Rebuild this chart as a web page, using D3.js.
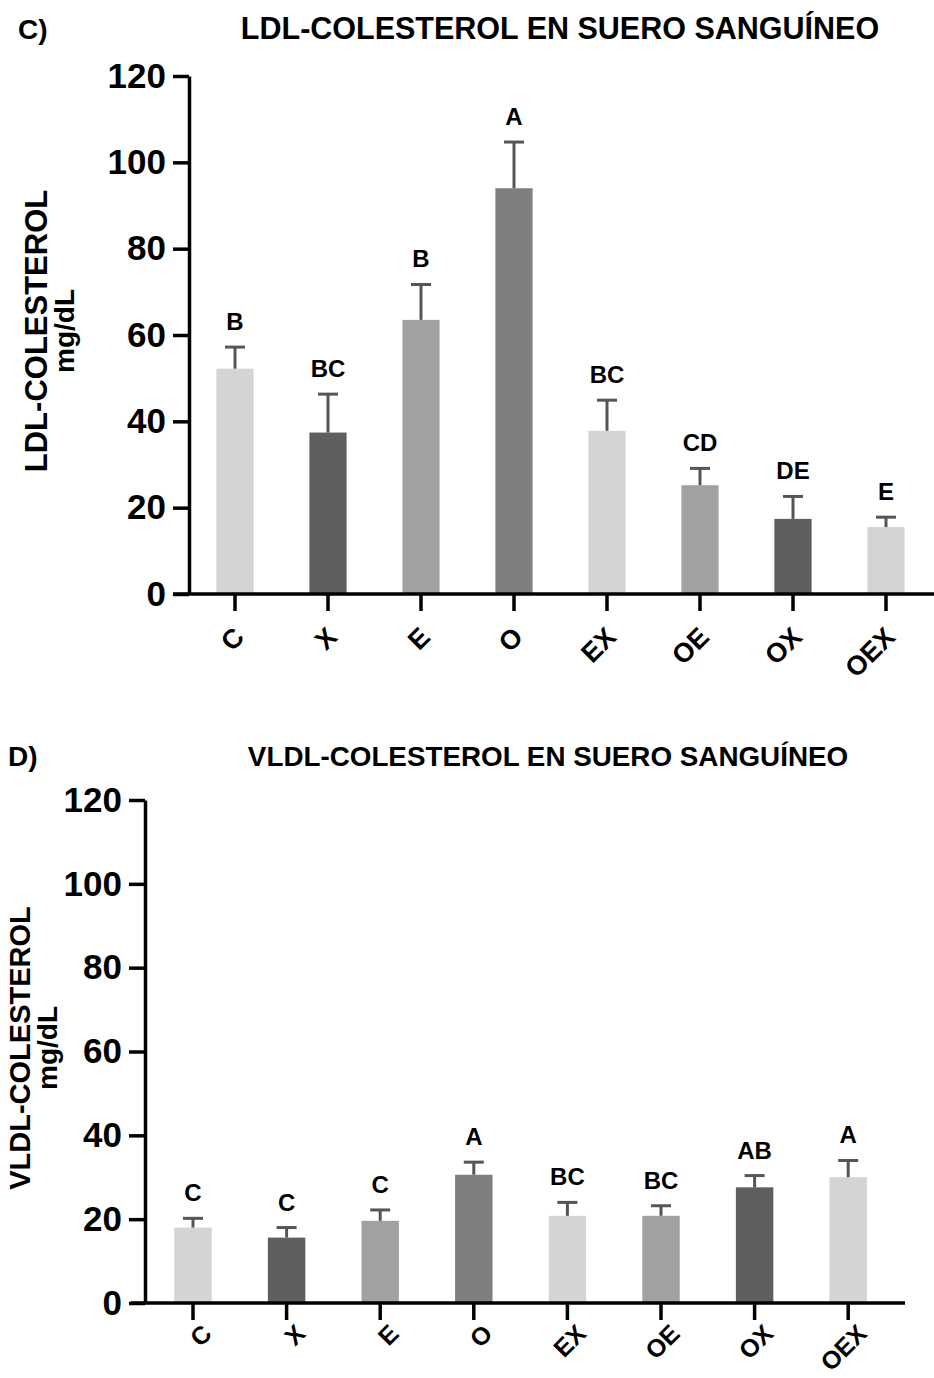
<!DOCTYPE html>
<html>
<head>
<meta charset="utf-8">
<script src="https://cdn.jsdelivr.net/npm/d3@7"></script>
<style>
  html, body { margin: 0; padding: 0; background: #fff; }
  svg { display: block; font-family: "Liberation Sans", Arial, sans-serif; }
</style>
</head>
<body>
<svg id="fig" width="934" height="1378"></svg>
<script>
// Treatment groups shown on the x axis of both panels
const groups = ["C", "X", "E", "O", "EX", "OE", "OX", "OEX"];

// Panel C: LDL-cholesterol (mg/dL), mean and upper error
const ldlMean = [52.2, 37.4, 63.5, 94.0, 37.8, 25.2, 17.4, 15.5];
const ldlErr  = [5.0, 8.9, 8.2, 10.7, 7.1, 3.9, 5.2, 2.3];
const ldlLetters = ["B", "BC", "B", "A", "BC", "CD", "DE", "E"];

// Panel D: VLDL-cholesterol (mg/dL), mean and upper error
const vldlMean = [18.0, 15.6, 19.6, 30.6, 20.8, 20.8, 27.6, 30.0];
const vldlErr  = [2.2, 2.4, 2.6, 3.0, 3.2, 2.4, 2.8, 4.0];
const vldlLetters = ["C", "C", "C", "A", "BC", "BC", "AB", "A"];

// Shared y-axis ticks
const yTicks = [0, 20, 40, 60, 80, 100, 120];

// Bar fill per group
const barFills = ["#d4d4d4", "#5f5f5f", "#a1a1a1", "#7f7f7f", "#d4d4d4", "#a1a1a1", "#5f5f5f", "#d4d4d4"];

const svg = d3.select("#fig");

function panel(opt) {
  const g = svg.append("g");
  const y = d3.scaleLinear().domain([0, 120]).range([opt.y0, opt.y120]);
  const x = d3.scaleBand().domain(groups).range([opt.xStart, opt.xEnd])
    .paddingInner(0.6).paddingOuter(0.3);
  const data = groups.map((k, i) => ({ k, m: opt.mean[i], e: opt.err[i], l: opt.letters[i], f: barFills[i] }));
  const cx = d => x(d.k) + x.bandwidth() / 2;

  // panel tag and title
  g.append("text").attr("x", opt.tagX).attr("y", opt.titleY)
    .attr("font-size", 28).attr("font-weight", "bold").text(opt.tag);
  g.append("text").attr("x", opt.titleX).attr("y", opt.titleY)
    .attr("text-anchor", "middle").attr("font-size", opt.titleSize).attr("font-weight", "bold").text(opt.title);

  // bars
  g.selectAll("rect.bar").data(data).join("rect")
    .attr("class", "bar")
    .attr("x", d => x(d.k))
    .attr("width", x.bandwidth())
    .attr("y", d => y(d.m))
    .attr("height", d => y(0) - y(d.m))
    .attr("fill", d => d.f);

  // upper error whiskers with caps
  const eb = g.selectAll("g.err").data(data).join("g").attr("class", "err")
    .attr("stroke", "#555").attr("stroke-width", 3);
  eb.append("line")
    .attr("x1", cx).attr("x2", cx)
    .attr("y1", d => y(d.m)).attr("y2", d => y(d.m + d.e));
  eb.append("line")
    .attr("x1", d => cx(d) - 10).attr("x2", d => cx(d) + 10)
    .attr("y1", d => y(d.m + d.e)).attr("y2", d => y(d.m + d.e));

  // significance letters
  g.selectAll("text.sig").data(data).join("text")
    .attr("class", "sig")
    .attr("x", cx)
    .attr("y", d => y(d.m + d.e) - opt.letterGap)
    .attr("text-anchor", "middle").attr("font-size", 24).attr("font-weight", "bold")
    .text(d => d.l);

  // y axis
  const ya = g.append("g").attr("transform", `translate(${opt.axisX},0)`)
    .call(d3.axisLeft(y).tickValues(yTicks).tickSize(16).tickSizeOuter(0).tickPadding(7));
  ya.select(".domain").attr("stroke-width", 3.5).attr("stroke", "#000");
  ya.selectAll(".tick line").attr("stroke-width", 3.5).attr("stroke", "#000");
  ya.selectAll(".tick text").attr("font-size", 35).attr("font-weight", "bold")
    .attr("font-family", "Liberation Sans, Arial, sans-serif").attr("fill", "#000");

  // x axis: baseline, ticks and rotated group names
  g.append("line").attr("x1", opt.lineStart).attr("x2", opt.lineEnd)
    .attr("y1", y(0)).attr("y2", y(0)).attr("stroke", "#000").attr("stroke-width", 3.5);
  const xa = g.append("g").attr("transform", `translate(0,${y(0)})`)
    .call(d3.axisBottom(x).tickSize(17).tickSizeOuter(0));
  xa.select(".domain").remove();
  xa.selectAll(".tick line").attr("stroke-width", 3.5).attr("stroke", "#000");
  xa.selectAll(".tick text")
    .attr("font-size", opt.catSize).attr("font-weight", "bold").attr("fill", "#000")
    .attr("font-family", "Liberation Sans, Arial, sans-serif")
    .attr("text-anchor", "end")
    .attr("x", opt.labelDx).attr("y", opt.labelDy).attr("dy", "0.35em")
    .attr("transform", `rotate(-45 ${opt.labelDx} ${opt.labelDy})`);

  // y-axis title, two lines
  g.append("text")
    .attr("transform", `translate(${opt.ylab1X},${opt.ylabY}) rotate(-90)`)
    .attr("text-anchor", "middle").attr("dy", "0.35em")
    .attr("font-size", opt.ylabSize).attr("font-weight", "bold").text(opt.ylab);
  g.append("text")
    .attr("transform", `translate(${opt.ylab2X},${opt.ylabY}) rotate(-90)`)
    .attr("text-anchor", "middle").attr("dy", "0.35em")
    .attr("font-size", 28).attr("font-weight", "bold").text("mg/dL");
}

panel({
  tag: "C)", title: "LDL-COLESTEROL EN SUERO SANGUÍNEO", tagX: 18, titleX: 560, titleY: 39, titleSize: 30.5,
  mean: ldlMean, err: ldlErr, letters: ldlLetters,
  y0: 594, y120: 76, xStart: 188.5, xEnd: 932.5, axisX: 189,
  lineStart: 173, lineEnd: 934, letterGap: 17, labelDx: 4, labelDy: 38, catSize: 27,
  ylab: "LDL-COLESTEROL", ylabSize: 31, ylab1X: 36, ylab2X: 64, ylabY: 331
});

panel({
  tag: "D)", title: "VLDL-COLESTEROL EN SUERO SANGUÍNEO", tagX: 8, titleX: 548, titleY: 766, titleSize: 27.8,
  mean: vldlMean, err: vldlErr, letters: vldlLetters,
  y0: 1303, y120: 800, xStart: 146.2, xEnd: 895, axisX: 145,
  lineStart: 131, lineEnd: 905, letterGap: 17, labelDx: 14, labelDy: 26, catSize: 25,
  ylab: "VLDL-COLESTEROL", ylabSize: 29, ylab1X: 20, ylab2X: 47, ylabY: 1048
});
</script>
</body>
</html>
